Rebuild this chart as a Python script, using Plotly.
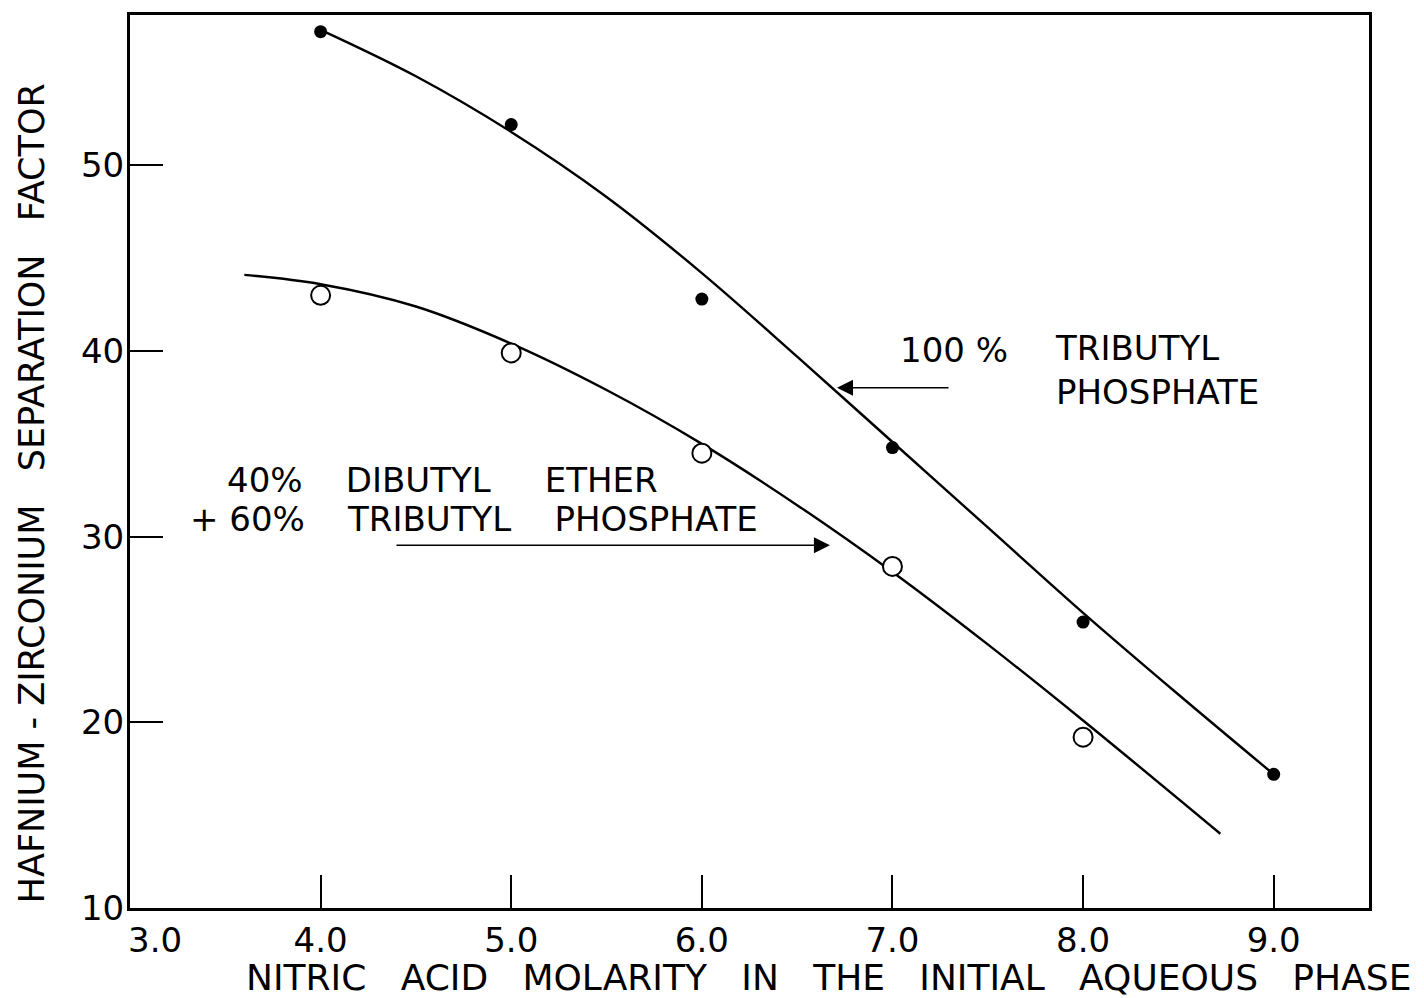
import plotly.graph_objects as go

# Measured points: hafnium-zirconium separation factor vs. HNO3 molarity
molarity_tbp = [4.0, 5.0, 6.0, 7.0, 8.0, 9.0]
factor_tbp = [57.2, 52.2, 42.8, 34.8, 25.4, 17.2]        # 100% tributyl phosphate

molarity_mix = [4.0, 5.0, 6.0, 7.0, 8.0]
factor_mix = [43.0, 39.9, 34.5, 28.4, 19.2]              # 40% dibutyl ether + 60% TBP

# Hand-faired curves through the data
curve_tbp_x = [4.0, 4.5, 5.0, 5.5, 6.0, 6.5, 7.0, 7.5, 8.0, 8.5, 9.0]
curve_tbp_y = [57.3, 54.8, 51.8, 48.3, 44.2, 39.7, 35.1, 30.5, 25.9, 21.5, 17.2]

curve_mix_x = [3.6, 4.0, 4.5, 5.0, 5.5, 6.0, 6.5, 7.0, 7.5, 8.0, 8.72]
curve_mix_y = [44.1, 43.6, 42.4, 40.4, 37.9, 35.0, 31.7, 28.1, 24.2, 20.1, 14.0]

x_ticks = [4.0, 5.0, 6.0, 7.0, 8.0, 9.0]
x_tick_text = ["4.0", "5.0", "6.0", "7.0", "8.0", "9.0"]
y_ticks = [10, 20, 30, 40, 50]
y_tick_text = ["10", "20", "30", "40", "50"]

FONT = "DejaVu Sans"
INK = "black"
NB = "\u00a0"

fig = go.Figure()

for cx, cy in [(curve_tbp_x, curve_tbp_y), (curve_mix_x, curve_mix_y)]:
    fig.add_trace(go.Scatter(
        x=cx, y=cy, mode="lines",
        line=dict(color=INK, width=2.4, shape="spline", smoothing=1.0),
        hoverinfo="skip", showlegend=False,
    ))

fig.add_trace(go.Scatter(
    x=molarity_tbp, y=factor_tbp, mode="markers",
    marker=dict(symbol="circle", size=13, color=INK, line=dict(width=0)),
    showlegend=False,
))
fig.add_trace(go.Scatter(
    x=molarity_mix, y=factor_mix, mode="markers",
    marker=dict(symbol="circle", size=19, color="white", line=dict(color=INK, width=2)),
    showlegend=False,
))

axis_common = dict(
    showline=True, linecolor=INK, linewidth=3, mirror=True,
    ticks="inside", ticklen=33, tickwidth=1.5, tickcolor=INK,
    showgrid=False, zeroline=False,
    tickfont=dict(family=FONT, size=34, color=INK),
)

fig.update_xaxes(range=[3.0, 9.5], tickvals=x_ticks, ticktext=x_tick_text,
                 ticklabelstandoff=0, **axis_common)
fig.update_yaxes(range=[10, 58.1], tickvals=y_ticks, ticktext=y_tick_text,
                 ticklabelstandoff=-4, **axis_common)

text_font = dict(family=FONT, size=34, color=INK)

annotations = [
    # corner label for the first x value
    dict(x=3.13, y=-0.0357, xref="x", yref="paper", text="3.0", showarrow=False,
         xanchor="center", yanchor="middle", font=text_font),
    # axis titles
    dict(x=0.5634, y=-0.078, xref="paper", yref="paper",
         text=(NB * 3).join(["NITRIC", "ACID", "MOLARITY", "IN", "THE",
                             "INITIAL", "AQUEOUS", "PHASE"]),
         showarrow=False, xanchor="center", yanchor="middle",
         font=dict(family=FONT, size=36, color=INK)),
    dict(x=-0.0791, y=0.4643, xref="paper", yref="paper",
         text="HAFNIUM - ZIRCONIUM" + NB * 3 + "SEPARATION" + NB * 3 + "FACTOR",
         textangle=-90, showarrow=False, xanchor="center", yanchor="middle",
         font=dict(family=FONT, size=35, color=INK)),
    # curve labels
    dict(x=7.029, y=40.06, xref="x", yref="y", text="100 %", showarrow=False,
         xanchor="left", yanchor="middle", font=text_font),
    dict(x=7.842, y=38.96, xref="x", yref="y", text="TRIBUTYL<br>PHOSPHATE",
         showarrow=False, xanchor="left", yanchor="middle", align="left", font=text_font),
    dict(x=3.498, y=33.08, xref="x", yref="y",
         text="40%" + NB * 4 + "DIBUTYL" + NB * 5 + "ETHER",
         showarrow=False, xanchor="left", yanchor="middle", font=text_font),
    dict(x=3.304, y=30.94, xref="x", yref="y",
         text="+ 60%" + NB * 4 + "TRIBUTYL" + NB * 4 + "PHOSPHATE",
         showarrow=False, xanchor="left", yanchor="middle", font=text_font),
    # pointer arrows
    dict(x=6.709, y=38.02, ax=7.302, ay=38.02, xref="x", yref="y", axref="x", ayref="y",
         text="", showarrow=True, arrowhead=2, arrowsize=2, arrowwidth=1.6, arrowcolor=INK),
    dict(x=6.672, y=29.54, ax=4.390, ay=29.54, xref="x", yref="y", axref="x", ayref="y",
         text="", showarrow=True, arrowhead=2, arrowsize=2, arrowwidth=1.6, arrowcolor=INK),
]

fig.update_layout(
    width=1424, height=998,
    margin=dict(l=130, r=55, t=12, b=90),
    paper_bgcolor="white", plot_bgcolor="white",
    annotations=annotations,
    showlegend=False,
)

fig.write_html("out.html")
